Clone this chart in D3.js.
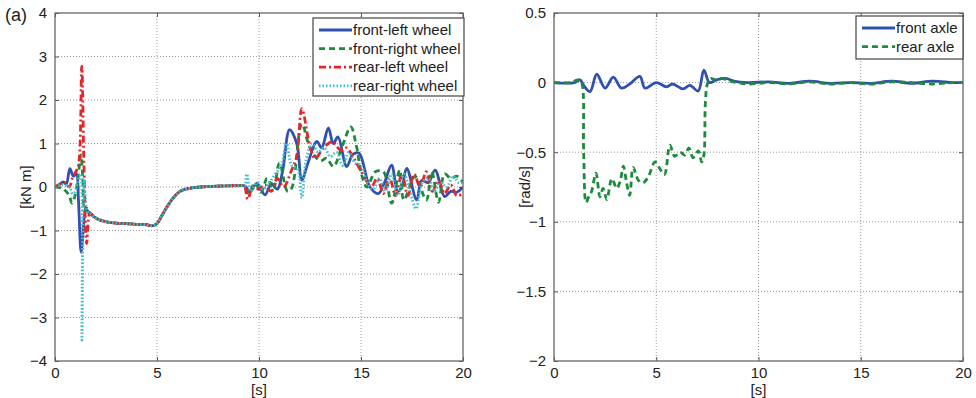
<!DOCTYPE html>
<html>
<head>
<meta charset="utf-8">
<script src="https://cdn.jsdelivr.net/npm/d3@7"></script>
<style>
  body { margin: 0; background: #fff; }
  svg { font-family: "Liberation Sans", Arial, sans-serif; }
</style>
</head>
<body>
<script>
const W = 976, H = 398;

// ---- data: left panel (torque, kN m) ----
const settle = [[1.72,-0.6],[1.9,-0.68],[2.2,-0.76],[2.53,-0.8],[3,-0.83],[3.5,-0.84],[4,-0.86],[4.4,-0.86],[4.8,-0.89],[5.0,-0.84],[5.25,-0.65],[5.5,-0.45],[5.8,-0.25],[6.13,-0.1],[6.6,-0.03],[7.1,0.0],[8,0.02],[9.2,0.03]];

const frontLeftHead = [[0,0],[0.2,0.05],[0.4,0.12],[0.55,0.06],[0.73,0.42],[0.9,0.25],[1.05,0.3],[1.15,-0.3],[1.28,-1.5],[1.4,-0.9],[1.5,-0.5],[1.62,-0.56]];
const frontLeftTail = [[9.3,0.03],[9.56,-0.1],[9.89,0.08],[10.3,-0.18],[10.6,0.08],[10.9,-0.05],[11.15,0.35],[11.5,1.32],[11.85,1.0],[12.1,0.16],[12.4,0.55],[12.83,1.05],[13.07,0.9],[13.4,1.36],[13.64,1.0],[13.87,1.15],[14.3,0.47],[14.6,0.75],[14.9,0.78],[15.44,0.0],[15.85,-0.15],[16.15,0.1],[16.5,0.5],[16.8,-0.1],[17.0,0.0],[17.24,0.43],[17.73,-0.3],[17.97,0.15],[18.3,0.1],[18.63,0.39],[19.1,-0.22],[19.4,-0.1],[19.7,-0.12],[20,0.0]];

const frontRightHead = [[0,0],[0.3,-0.02],[0.5,-0.08],[0.7,-0.2],[0.83,-0.37],[0.95,-0.25],[1.1,0.1],[1.27,0.74],[1.36,0.2],[1.45,-0.55],[1.55,-0.48],[1.65,-0.6]];
const frontRightTail = [[9.3,0.02],[9.5,-0.15],[9.8,0.1],[10.1,-0.12],[10.4,0.2],[10.7,-0.05],[11.0,0.55],[11.4,-0.1],[11.6,-0.03],[12.1,1.45],[12.5,0.9],[13.0,0.6],[13.3,0.66],[13.65,0.47],[14.05,0.9],[14.5,1.38],[14.75,1.0],[15.05,0.25],[15.3,0.0],[15.7,0.35],[16.1,0.35],[16.5,-0.37],[16.9,0.39],[17.1,-0.3],[17.65,0.24],[18.2,-0.3],[18.47,0.35],[18.8,-0.35],[19.1,0.3],[19.4,0.2],[19.7,0.25],[20,0.1]];

const rearLeftHead = [[0,0],[0.3,0.08],[0.5,0.1],[0.7,0.0],[0.85,0.2],[1.0,0.33],[1.15,0.5],[1.31,2.78],[1.42,0.5],[1.55,-1.3],[1.65,-0.7]];
const rearLeftTail = [[9.3,0.0],[9.45,-0.28],[9.7,0.0],[10.0,-0.05],[10.3,0.05],[10.6,-0.1],[10.9,0.2],[11.2,0.0],[11.6,0.39],[11.85,0.7],[12.1,1.8],[12.5,0.93],[12.75,0.66],[13.15,0.89],[13.4,1.0],[13.6,1.04],[14.0,0.85],[14.3,0.9],[14.5,0.78],[14.9,0.45],[15.2,0.2],[15.5,0.0],[15.8,0.2],[16.1,-0.15],[16.4,0.2],[16.7,-0.2],[17.0,0.3],[17.3,-0.2],[17.6,0.3],[17.9,0.0],[18.2,0.35],[18.5,-0.1],[18.8,0.15],[19.1,-0.15],[19.4,0.05],[19.7,-0.2],[20,-0.15]];

const rearRightHead = [[0,0],[0.4,0.05],[0.7,0.0],[0.9,-0.2],[1.1,0.1],[1.25,0.3],[1.32,-3.52],[1.42,0.2],[1.55,-0.5],[1.65,-0.6]];
const rearRightTail = [[9.3,0.02],[9.4,0.3],[9.6,-0.1],[9.9,0.1],[10.2,-0.05],[10.5,0.1],[10.8,0.3],[11.1,0.5],[11.35,1.0],[11.6,0.5],[11.9,0.4],[12.1,-0.25],[12.3,0.6],[12.6,1.0],[12.9,0.8],[13.2,0.9],[13.5,0.7],[13.8,0.8],[14.1,0.5],[14.4,0.8],[14.7,0.55],[15.0,0.5],[15.3,0.1],[15.6,-0.05],[15.9,0.2],[16.2,-0.1],[16.5,0.3],[16.8,-0.2],[17.1,0.3],[17.4,-0.1],[17.7,-0.5],[18.0,0.1],[18.3,0.2],[18.6,-0.1],[18.9,0.1],[19.2,0.0],[19.5,0.25],[19.8,0.1],[20,0.1]];

// ---- data: right panel (rad/s) ----
const frontAxle = [[0,0],[1.0,0.0],[1.27,0.02],[1.45,-0.02],[1.76,-0.065],[2.09,0.06],[2.5,-0.04],[2.9,0.04],[3.3,-0.04],[3.7,-0.01],[4.2,0.045],[4.45,-0.04],[5.0,0.0],[5.5,-0.03],[5.8,-0.01],[6.3,-0.045],[6.65,-0.02],[7.05,-0.06],[7.33,0.09],[7.6,0.0],[7.95,0.02],[8.4,0.03],[8.8,0.01],[9.5,0.0],[10.5,0.005],[11.5,-0.005],[12.5,0.01],[13.5,-0.005],[14.5,0.0],[15.5,-0.005],[16.5,0.01],[17.5,-0.005],[18.5,0.01],[19.5,0.0],[20,0.0]];
const rearAxle = [[0,0],[0.8,0.0],[1.2,0.02],[1.35,0.0],[1.45,-0.5],[1.57,-0.86],[1.7,-0.82],[1.84,-0.78],[2.05,-0.65],[2.25,-0.82],[2.4,-0.76],[2.58,-0.84],[2.83,-0.69],[3.07,-0.76],[3.25,-0.7],[3.39,-0.6],[3.55,-0.72],[3.7,-0.81],[3.87,-0.61],[4.12,-0.7],[4.35,-0.72],[4.6,-0.68],[4.94,-0.57],[5.18,-0.62],[5.4,-0.66],[5.67,-0.45],[5.9,-0.53],[6.16,-0.5],[6.4,-0.52],[6.6,-0.47],[6.8,-0.54],[7.06,-0.49],[7.22,-0.57],[7.33,-0.52],[7.4,-0.15],[7.5,-0.01],[7.65,0.03],[7.9,0.02],[8.2,0.03],[8.6,0.01],[9.0,0.0],[9.5,-0.01],[10.5,0.0],[11.5,-0.01],[12.5,0.005],[13.5,-0.01],[14.5,0.0],[15.5,-0.01],[16.5,0.005],[17.5,0.0],[18.5,-0.01],[19.5,0.0],[20,0.0]];

const xTicks = [0, 5, 10, 15, 20];
const leftYTicks = [-4, -3, -2, -1, 0, 1, 2, 3, 4];
const rightYTicks = [-2, -1.5, -1, -0.5, 0, 0.5];

const leftSeries = [
  { name: 'front-left wheel', data: frontLeftHead.concat(settle, frontLeftTail), color: '#3050b0', dash: null },
  { name: 'front-right wheel', data: frontRightHead.concat(settle, frontRightTail), color: '#1d8a3c', dash: '6,4' },
  { name: 'rear-left wheel', data: rearLeftHead.concat(settle, rearLeftTail), color: '#e3262b', dash: '7,3,2,3' },
  { name: 'rear-right wheel', data: rearRightHead.concat(settle, rearRightTail), color: '#3fbfcc', dash: '1.5,2' }
];
const rightSeries = [
  { name: 'front axle', data: frontAxle, color: '#3050b0', dash: null },
  { name: 'rear axle', data: rearAxle, color: '#1d8a3c', dash: '6,4' }
];

const svg = d3.select('body').append('svg').attr('width', W).attr('height', H);

function panel(opts) {
  const { x0, x1, y0, y1, yDomain, yTicks, series, ylabel, fmt, legend } = opts;
  const x = d3.scaleLinear().domain([0, 20]).range([x0, x1]);
  const y = d3.scaleLinear().domain(yDomain).range([y1, y0]);
  const g = svg.append('g');

  // grid
  g.append('g').selectAll('line').data(xTicks.slice(1, -1)).enter().append('line')
    .attr('x1', d => x(d)).attr('x2', d => x(d)).attr('y1', y0).attr('y2', y1)
    .attr('stroke', '#9a9a9a').attr('stroke-width', 1).attr('stroke-dasharray', '1,2');
  g.append('g').selectAll('line').data(yTicks.slice(1, -1)).enter().append('line')
    .attr('x1', x0).attr('x2', x1).attr('y1', d => y(d)).attr('y2', d => y(d))
    .attr('stroke', '#9a9a9a').attr('stroke-width', 1).attr('stroke-dasharray', '1,2');

  // axes with inward ticks
  g.append('g').attr('transform', `translate(0,${y1})`)
    .call(d3.axisBottom(x).tickValues(xTicks).tickSize(-4).tickPadding(6));
  g.append('g').attr('transform', `translate(${x0},0)`)
    .call(d3.axisLeft(y).tickValues(yTicks).tickFormat(fmt).tickSize(-4).tickPadding(8));
  g.append('g').attr('transform', `translate(${x1},0)`)
    .call(d3.axisRight(y).tickValues(yTicks).tickSize(-4).tickFormat(''));
  g.append('g').attr('transform', `translate(0,${y0})`)
    .call(d3.axisTop(x).tickValues(xTicks).tickSize(-4).tickFormat(''));
  g.selectAll('.domain').remove();
  g.selectAll('.tick line').attr('stroke', '#555');
  g.selectAll('.tick text').attr('fill', '#222').style('font-size', '15px');

  const clipId = 'clip' + x0;
  svg.append('clipPath').attr('id', clipId).append('rect')
    .attr('x', x0).attr('y', y0).attr('width', x1 - x0).attr('height', y1 - y0);

  const line = d3.line().x(d => x(d[0])).y(d => y(d[1])).curve(d3.curveCatmullRom.alpha(0.5));
  g.append('g').attr('clip-path', `url(#${clipId})`).selectAll('path').data(series).enter().append('path')
    .attr('d', d => line(d.data))
    .attr('fill', 'none')
    .attr('stroke', d => d.color)
    .attr('stroke-width', 2.8)
    .attr('stroke-dasharray', d => d.dash)
    .attr('stroke-linejoin', 'round');

  // box
  g.append('rect').attr('x', x0).attr('y', y0).attr('width', x1 - x0).attr('height', y1 - y0)
    .attr('fill', 'none').attr('stroke', '#666').attr('stroke-width', 1.3);

  // labels
  g.append('text').attr('x', (x0 + x1) / 2).attr('y', 395).attr('text-anchor', 'middle')
    .attr('fill', '#222').style('font-size', '15px').text('[s]');
  g.append('text').attr('transform', `translate(${x0 - 24},${(y0 + y1) / 2}) rotate(-90)`)
    .attr('text-anchor', 'middle').attr('fill', '#222').style('font-size', '15px').text(ylabel);

  // legend
  const lg = g.append('g');
  lg.append('rect').attr('x', legend.x).attr('y', legend.y).attr('width', legend.w).attr('height', legend.h)
    .attr('fill', '#fff').attr('stroke', '#444').attr('stroke-width', 1.2);
  series.forEach((s, i) => {
    const ly = legend.y + 12 + i * 18.6;
    lg.append('line').attr('x1', legend.x + 6).attr('x2', legend.x + 39).attr('y1', ly).attr('y2', ly)
      .attr('stroke', s.color).attr('stroke-width', 2.8).attr('stroke-dasharray', s.dash);
    lg.append('text').attr('x', legend.x + 40).attr('y', ly + 5).attr('fill', '#222')
      .style('font-size', '15px').text(s.name);
  });
}

panel({ x0: 55, x1: 463, y0: 13, y1: 361, yDomain: [-4, 4], yTicks: leftYTicks, series: leftSeries,
  ylabel: '[kN m]', fmt: d3.format('d'), legend: { x: 313, y: 18, w: 151, h: 78 } });
panel({ x0: 554, x1: 963, y0: 13, y1: 361, yDomain: [-2, 0.5], yTicks: rightYTicks, series: rightSeries,
  ylabel: '[rad/s]', fmt: d => d3.format('')(d), legend: { x: 856, y: 16, w: 107, h: 43 } });

svg.append('text').attr('x', 5).attr('y', 21).attr('fill', '#222').style('font-size', '18px').text('(a)');
</script>
</body>
</html>
